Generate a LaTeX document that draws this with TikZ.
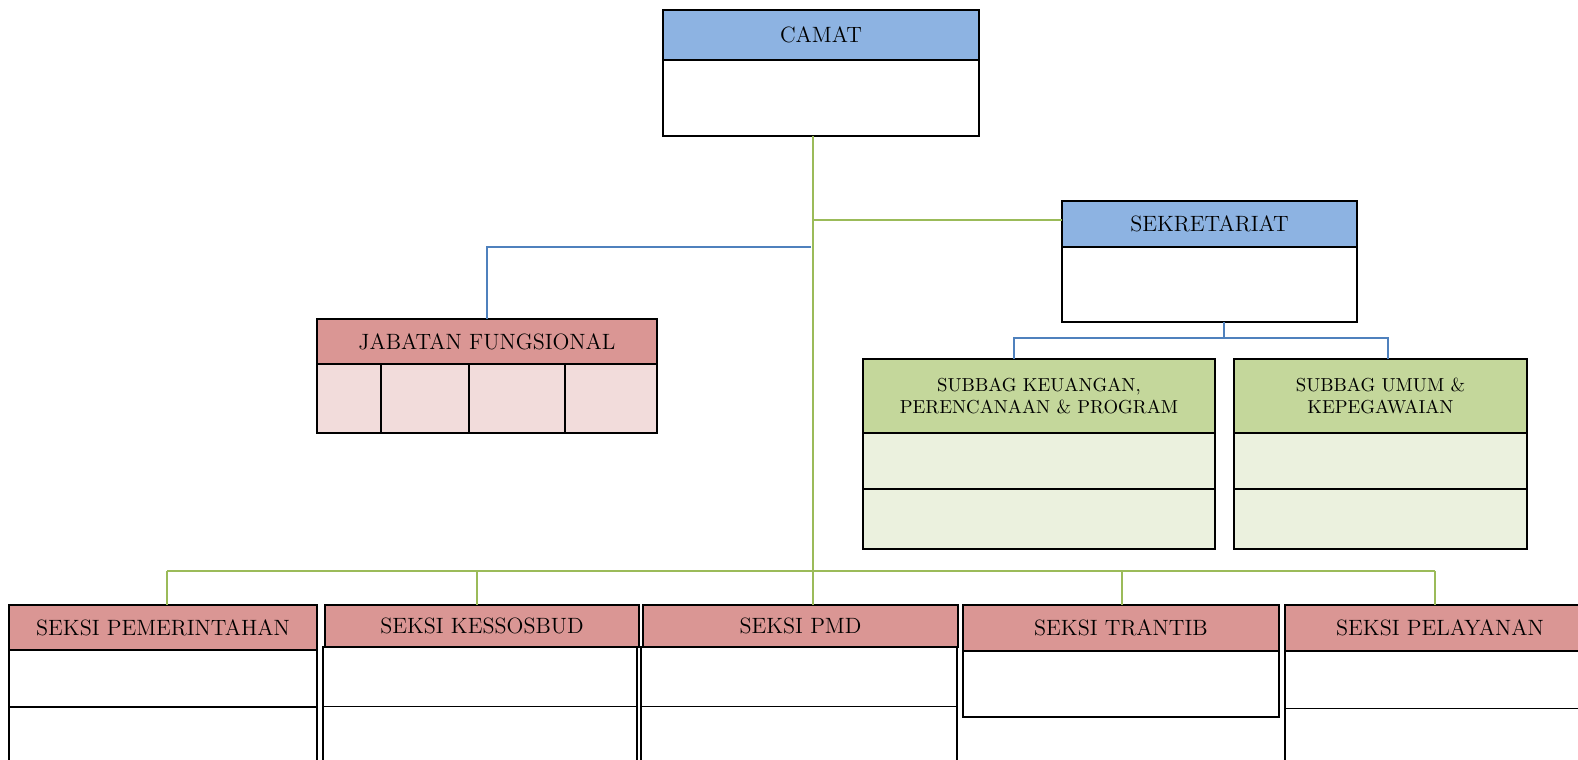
\documentclass[tikz,border=0pt]{standalone}
\usepackage{tikz}
\usepackage{xcolor}

\definecolor{headblue}{HTML}{8DB3E2}
\definecolor{headred}{HTML}{DA9694}
\definecolor{cellpink}{HTML}{F2DCDB}
\definecolor{headgreen}{HTML}{C4D79B}
\definecolor{cellgreen}{HTML}{EBF1DE}
\definecolor{linegreen}{HTML}{9BBB59}
\definecolor{lineblue}{HTML}{4F81BD}

\tikzset{
    cell/.style={draw=black, line width=0.75pt, inner sep=0pt, outer sep=0pt, anchor=north west,
        align=center, font=\fontsize{12.6}{15}\selectfont},
    greenline/.style={draw=linegreen, line width=1.2pt},
    blueline/.style={draw=lineblue, line width=1.2pt},
}

\begin{document}
\begin{tikzpicture}[x=0.02cm, y=-0.02cm]

\useasboundingbox (0,0) rectangle (1578,760);
\clip (0,0) rectangle (1578,760);

% Camat
\node[cell, fill=headblue, minimum width=6.32cm, minimum height=1cm] (camat) at (663,10) {CAMAT};
\node[cell, fill=white, minimum width=6.32cm, minimum height=1.52cm] (camatbody) at (camat.south west) {};

% Sekretariat
\node[cell, fill=headblue, minimum width=5.9cm, minimum height=0.92cm] (sekhead) at (1062,201) {SEKRETARIAT};
\node[cell, fill=white, minimum width=5.9cm, minimum height=1.5cm] (sekbody) at (sekhead.south west) {};

% Jabatan fungsional
\node[cell, fill=headred, minimum width=6.8cm, minimum height=0.9cm] (jabhead) at (317,319) {JABATAN FUNGSIONAL};
\node[cell, fill=cellpink, minimum width=1.28cm, minimum height=1.38cm] (jab1) at (jabhead.south west) {};
\node[cell, fill=cellpink, minimum width=1.76cm, minimum height=1.38cm] (jab2) at (jab1.north east) {};
\node[cell, fill=cellpink, minimum width=1.92cm, minimum height=1.38cm] (jab3) at (jab2.north east) {};
\node[cell, fill=cellpink, minimum width=1.84cm, minimum height=1.38cm] (jab4) at (jab3.north east) {};

% Subbag
\node[cell, fill=headgreen, minimum width=7.04cm, minimum height=1.48cm,
      font=\fontsize{10.7}{12.8}\selectfont] (subhead1) at (863,359) {SUBBAG KEUANGAN,\\PERENCANAAN \& PROGRAM};
\node[cell, fill=cellgreen, minimum width=7.04cm, minimum height=1.12cm] (subone1) at (subhead1.south west) {};
\node[cell, fill=cellgreen, minimum width=7.04cm, minimum height=1.2cm] (subtwo1) at (subone1.south west) {};

\node[cell, fill=headgreen, minimum width=5.86cm, minimum height=1.48cm,
      font=\fontsize{10.7}{12.8}\selectfont] (subhead2) at (1234,359) {SUBBAG UMUM \&\\KEPEGAWAIAN};
\node[cell, fill=cellgreen, minimum width=5.86cm, minimum height=1.12cm] (subone2) at (subhead2.south west) {};
\node[cell, fill=cellgreen, minimum width=5.86cm, minimum height=1.2cm] (subtwo2) at (subone2.south west) {};

% Seksi
\node[cell, fill=headred, minimum width=6.16cm, minimum height=0.9cm] (seksi1) at (9,605) {SEKSI PEMERINTAHAN};
\node[cell, fill=white, minimum width=6.16cm, minimum height=1.14cm] (seksione1) at (seksi1.south west) {};
\node[cell, fill=white, minimum width=6.16cm, minimum height=1.4cm] (seksitwo1) at (seksione1.south west) {};

\node[cell, fill=headred, minimum width=6.28cm, minimum height=0.84cm] (seksi2) at (325,605) {SEKSI KESSOSBUD};
\node[cell, fill=white, minimum width=6.28cm, minimum height=1.19cm] (seksione2) at (323,647) {};
\node[cell, fill=white, minimum width=6.28cm, minimum height=1.4cm] (seksitwo2) at (seksione2.south west) {};

\node[cell, fill=headred, minimum width=6.3cm, minimum height=0.84cm] (seksi3) at (643,605) {SEKSI PMD};
\node[cell, fill=white, minimum width=6.32cm, minimum height=1.19cm] (seksione3) at (641,647) {};
\node[cell, fill=white, minimum width=6.32cm, minimum height=1.4cm] (seksitwo3) at (seksione3.south west) {};

\node[cell, fill=headred, minimum width=6.32cm, minimum height=0.92cm] (seksi4) at (963,605) {SEKSI TRANTIB};
\node[cell, fill=white, minimum width=6.32cm, minimum height=1.32cm] (seksione4) at (seksi4.south west) {};

\node[cell, fill=headred, minimum width=6.2cm, minimum height=0.92cm] (seksi5) at (1285,605) {SEKSI PELAYANAN};
\node[cell, fill=white, minimum width=6.2cm, minimum height=1.15cm] (seksione5) at (seksi5.south west) {};
\node[cell, fill=white, minimum width=6.2cm, minimum height=1.4cm] (seksitwo5) at (seksione5.south west) {};

% Garis komando
\coordinate (trunkbot) at (813,571);
\coordinate (sekjoint) at (813,220);
\coordinate (jabjoint) at (811,247);
\draw[greenline] (trunkbot |- camatbody.south) -- (trunkbot);
\draw[greenline] (sekjoint) -- (sekjoint -| sekhead.west);
\draw[blueline] (jabjoint) -| (jabhead.north);

% Sekretariat ke subbag
\coordinate (subjoint) at (1224,338);
\coordinate (subleft) at (1014,338);
\coordinate (subright) at (1388,338);
\draw[blueline] (subjoint |- sekbody.south) -- (subjoint);
\draw[blueline] (subleft |- subhead1.north) -- (subleft) -- (subright) -- (subright |- subhead2.north);

% Camat ke seksi
\coordinate (bus1) at (167,571);
\coordinate (bus2) at (477,571);
\coordinate (bus3) at (813,571);
\coordinate (bus4) at (1122,571);
\coordinate (bus5) at (1435,571);
\draw[greenline] (bus1) -- (bus5);
\foreach \i in {1,...,5} {
    \draw[greenline] (bus\i) -- (bus\i |- seksi\i.north);
}

\end{tikzpicture}
\end{document}
